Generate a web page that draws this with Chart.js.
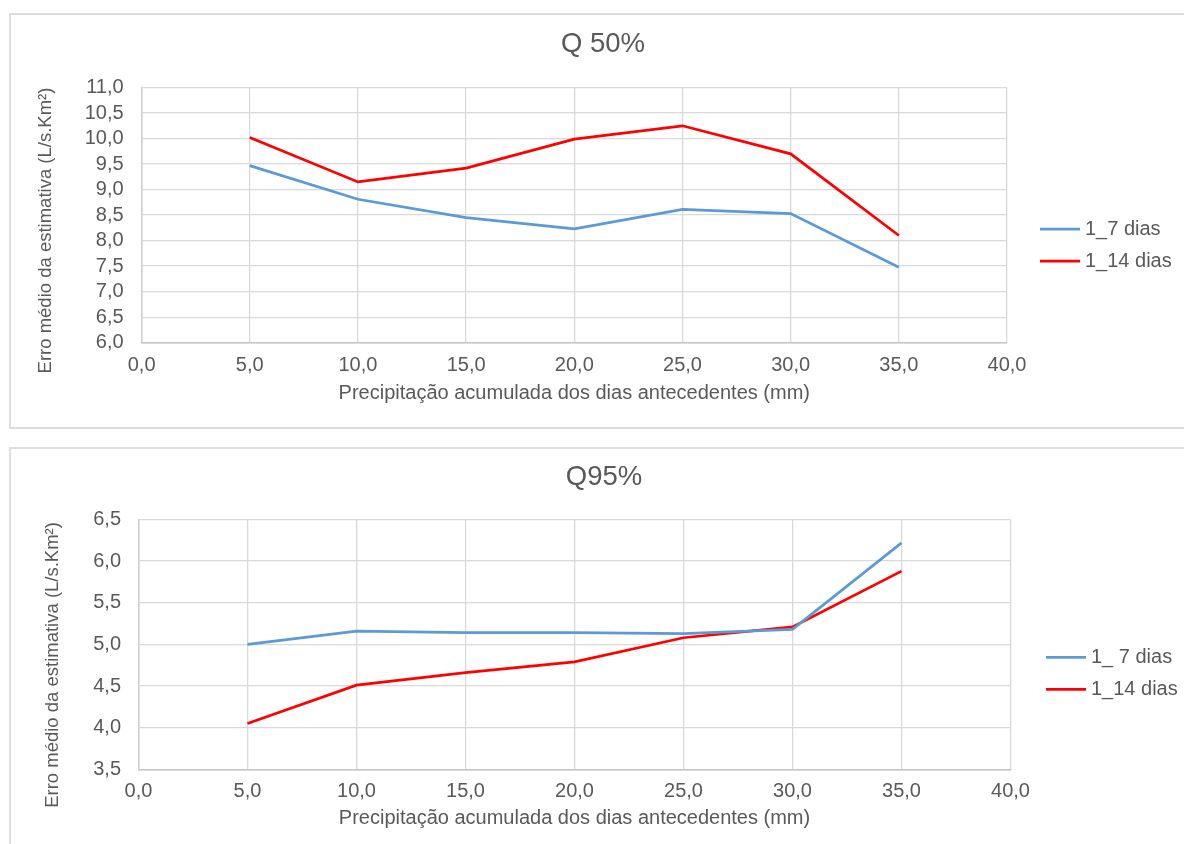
<!DOCTYPE html>
<html><head><meta charset="utf-8">
<script src="https://cdn.jsdelivr.net/npm/chart.js@4.4.1/dist/chart.umd.min.js"></script>
<style>
html,body{margin:0;padding:0;background:#fff;width:1184px;height:844px;overflow:hidden;position:relative;}
.box{position:absolute;border:2px solid #dddddd;box-sizing:border-box;}
#b1{left:9px;top:13px;width:1230px;height:416px;}
#b2{left:9px;top:447px;width:1230px;height:500px;}
canvas{position:absolute;left:0;}
#c1{top:0;}
#c2{top:430px;}
</style></head><body>
<div class="box" id="b1"></div><div class="box" id="b2"></div>
<canvas id="c1" width="1206" height="430"></canvas>
<canvas id="c2" width="1208" height="414"></canvas>
<script>
// ---- data ----
const xValues = [5, 10, 15, 20, 25, 30, 35];
const xRange = [0, 40, 5];

const q50Names = ['1_7 dias', '1_14 dias'];
const q50_7 = [9.47, 8.81, 8.45, 8.23, 8.61, 8.53, 7.48];
const q50_14 = [10.02, 9.15, 9.42, 9.99, 10.25, 9.70, 8.10];
const q50YRange = [6, 11, 0.5];

const q95Names = ['1_ 7 dias', '1_14 dias'];
const q95_7 = [5.00, 5.16, 5.14, 5.14, 5.13, 5.18, 6.22];
const q95_14 = [4.05, 4.51, 4.66, 4.79, 5.08, 5.21, 5.88];
const q95YRange = [3.5, 6.5, 0.5];

const titles = ['Q 50%', 'Q95%'];
const xTitle = 'Precipitação acumulada dos dias antecedentes (mm)';
const yTitle = 'Erro médio da estimativa (L/s.Km²)';

// ---- style ----
const TEXT = '#595959';
const GRID = '#d9d9d9';
const colors = ['#5b9bd5', '#ff0000'];
const FONT = '"Liberation Sans", Arial, sans-serif';
const FS = 20;
Chart.defaults.font.family = FONT;
Chart.defaults.color = TEXT;

const fmt = v => Number(v).toFixed(1).replace('.', ',');

const lineLegend = {
  id: 'lineLegend',
  afterDraw(chart, args, o) {
    const ctx = chart.ctx, a = chart.chartArea;
    ctx.save();
    chart.data.datasets.forEach((ds, i) => {
      const y = o.top + i * o.gap;
      const x0 = a.right + o.offset;
      ctx.strokeStyle = ds.borderColor;
      ctx.lineWidth = ds.borderWidth;
      ctx.beginPath(); ctx.moveTo(x0, y); ctx.lineTo(x0 + o.len, y); ctx.stroke();
      ctx.fillStyle = TEXT;
      ctx.font = o.size + 'px ' + FONT;
      ctx.textBaseline = 'middle';
      ctx.textAlign = 'left';
      ctx.fillText(ds.label, x0 + o.len + o.textGap, y);
    });
    ctx.restore();
  }
};

function build(id, g, series, names, yr, titleText) {
  return new Chart(document.getElementById(id), {
    type: 'line',
    data: {
      datasets: series.map((vals, i) => ({
        label: names[i],
        data: xValues.map((x, j) => ({x: x, y: vals[j]})),
        borderColor: colors[i],
        backgroundColor: colors[i],
        borderWidth: 2.75,
        pointRadius: 0,
        tension: 0,
        fill: false
      }))
    },
    plugins: [lineLegend],
    options: {
      responsive: false,
      animation: false,
      events: [],
      layout: {padding: 0},
      plugins: {
        legend: {display: false},
        tooltip: {enabled: false},
        title: {display: true, text: titleText, color: TEXT,
          font: {size: 27.5, weight: 'normal', lineHeight: 1.2},
          padding: {top: g.tTop, bottom: g.tBot}},
        lineLegend: {top: g.legTop, gap: 32, offset: g.legOff, len: 40, textGap: 5, size: FS}
      },
      scales: {
        x: {
          type: 'linear', min: xRange[0], max: xRange[1],
          ticks: {stepSize: xRange[2], autoSkip: false, maxRotation: 0, padding: g.xPad, callback: fmt, color: TEXT, font: {size: FS}},
          grid: {color: GRID, lineWidth: 1.3, drawTicks: false},
          border: {color: '#c4c4c4', width: 1.5},
          title: {display: true, text: xTitle, color: TEXT, font: {size: FS, lineHeight: 1.2},
            padding: {top: 0, bottom: g.xtBot}},
          afterFit: s => { s.height = g.xH; }
        },
        y: {
          type: 'linear', min: yr[0], max: yr[1],
          ticks: {stepSize: yr[2], autoSkip: false, padding: g.yPad, callback: fmt, color: TEXT, font: {size: FS}},
          grid: {color: GRID, lineWidth: 1.3, drawTicks: false},
          border: {color: '#cfcfcf', width: 1.5},
          title: {display: true, text: yTitle + g.ySpace, color: TEXT, font: {size: 18.5, lineHeight: 1.2},
            padding: {top: g.ytTop, bottom: 0}},
          afterFit: s => { s.width = g.yW; }
        },
        pad: {
          type: 'linear', position: 'right', display: true,
          grid: {display: false}, border: {display: false}, ticks: {display: false},
          afterFit: s => { s.width = g.rW; }
        }
      }
    }
  });
}

build('c1', {tTop: 28.4, tBot: 26.1, xH: 87.3, xPad: 10.3, xtBot: 24.7, yW: 141.6, yPad: 18,
  ytTop: 35, ySpace: '      ', rW: 199, legTop: 229, legOff: 33},
  [q50_7, q50_14], q50Names, q50YRange, titles[0]);

build('c2', {tTop: 31.4, tBot: 25.1, xH: 74.7, xPad: 9.7, xtBot: 14, yW: 138.5, yPad: 17.5,
  ytTop: 42, ySpace: '        ', rW: 197.5, legTop: 227.3, legOff: 35.5},
  [q95_7, q95_14], q95Names, q95YRange, titles[1]);
</script>
</body></html>
